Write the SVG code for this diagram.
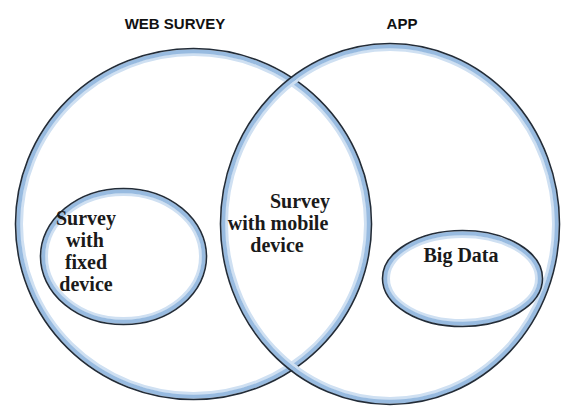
<svg xmlns="http://www.w3.org/2000/svg" width="562" height="407" viewBox="0 0 562 407">
  <style>
    .edge { fill: none; stroke: #222c38; stroke-width: 1.6; }
    .band { fill: none; stroke: #98bbe0; stroke-width: 4; }
    .glow { fill: none; stroke: #cfe0f2; stroke-width: 3; }
    .title { font-family: "Liberation Sans", Arial, sans-serif; font-weight: bold; font-size: 15px; fill: #111; text-anchor: middle; }
    .label { font-family: "Liberation Serif", "Times New Roman", serif; font-weight: bold; font-size: 20px; fill: #1a1a1a; text-anchor: middle; }
  </style>
  <rect width="562" height="407" fill="#ffffff"/>

  <!-- WEB SURVEY set -->
  <g id="web-survey">
    <ellipse class="glow" cx="193.5" cy="224" rx="172" ry="169.5"/>
    <ellipse class="band" cx="193.5" cy="224" rx="175.3" ry="172.8"/>
    <ellipse class="edge" cx="193.5" cy="224" rx="178" ry="175.5"/>
    <text class="title" x="175" y="29">WEB SURVEY</text>
  </g>

  <!-- APP set -->
  <g id="app">
    <ellipse class="glow" cx="390" cy="224" rx="163.5" ry="174.5"/>
    <ellipse class="band" cx="390" cy="224" rx="166.8" ry="177.8"/>
    <ellipse class="edge" cx="390" cy="224" rx="169.5" ry="180.5"/>
    <text class="title" x="402" y="29">APP</text>
  </g>

  <!-- Survey with fixed device -->
  <g id="fixed-device">
    <ellipse class="glow" cx="123.5" cy="256.5" rx="77" ry="62"/>
    <ellipse class="band" cx="123.5" cy="256.5" rx="80.3" ry="65.3"/>
    <ellipse class="edge" cx="123.5" cy="256.5" rx="83" ry="68"/>
    <text class="label" x="86" y="225">Survey</text>
    <text class="label" x="85" y="247">with</text>
    <text class="label" x="86" y="269">fixed</text>
    <text class="label" x="86" y="291">device</text>
  </g>

  <!-- Survey with mobile device (overlap) -->
  <g id="mobile-device">
    <text class="label" x="300" y="208">Survey</text>
    <text class="label" x="278" y="230">with mobile</text>
    <text class="label" x="277" y="252">device</text>
  </g>

  <!-- Big Data -->
  <g id="big-data">
    <ellipse class="glow" cx="462.5" cy="278.5" rx="74" ry="42"/>
    <ellipse class="band" cx="462.5" cy="278.5" rx="77.3" ry="45.3"/>
    <ellipse class="edge" cx="462.5" cy="278.5" rx="80" ry="48"/>
    <text class="label" x="461" y="262">Big Data</text>
  </g>
</svg>
